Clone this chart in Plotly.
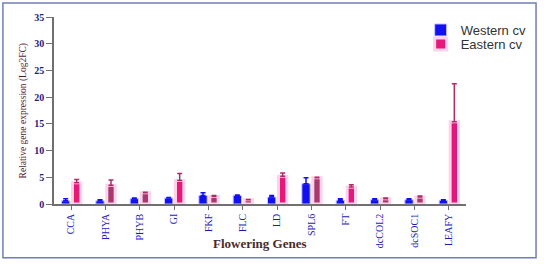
import plotly.graph_objects as go

genes = ["CCA", "PHYA", "PHYB", "GI", "FKF", "FLC", "LD", "SPL6", "FT", "dcCOL2", "dcSOC1", "LEAFY"]
western = [0.6, 0.6, 1.0, 1.1, 1.6, 1.6, 1.3, 3.8, 0.7, 0.8, 0.8, 0.7]
western_err = [0.4, 0.2, 0.1, 0.1, 0.5, 0.1, 0.3, 1.1, 0.3, 0.2, 0.2, 0.1]
eastern = [4.0, 3.5, 2.1, 4.4, 1.4, 0.8, 5.2, 4.9, 3.2, 1.0, 1.3, 15.4]
eastern_err = [0.6, 1.0, 0.1, 1.3, 0.2, 0.05, 0.6, 0.1, 0.4, 0.1, 0.2, 7.1]
eastern_colors = ["#e8177a", "#a8386e", "#a8386e", "#e8177a", "#a8386e", "#a8386e",
                  "#e8177a", "#a8386e", "#e8177a", "#a8386e", "#a8386e", "#e0187a"]
y_ticks = [0, 5, 10, 15, 20, 25, 30, 35]

serif = "Liberation Serif"

fig = go.Figure()
fig.add_trace(go.Bar(
    x=genes, y=western, name="Western cv", legend="legend",
    marker=dict(color="#1010f0", line=dict(color="#c8c8ff", width=1)),
    error_y=dict(type="data", array=western_err, arrayminus=[0] * len(genes),
                 symmetric=False, color="#1010f0", thickness=1.5, width=2.5),
))
fig.add_trace(go.Bar(
    x=genes, y=eastern, name="Eastern cv", legend="legend2",
    marker=dict(color=eastern_colors, line=dict(color="#fbd3ea", width=3)),
    error_y=dict(type="data", array=eastern_err, arrayminus=[0] * len(genes),
                 symmetric=False, color="#b02a68", thickness=1.5, width=2.5),
))

legend_common = dict(xanchor="left", yanchor="middle",
                     font=dict(family="Liberation Sans", size=13, color="#333333"),
                     bgcolor="rgba(0,0,0,0)", itemwidth=30)

fig.update_layout(
    width=550, height=264,
    margin=dict(l=54, r=84, t=17, b=60),
    paper_bgcolor="white", plot_bgcolor="white",
    barmode="group", bargap=0.36, bargroupgap=0.24,
    showlegend=True,
    legend=dict(x=0.89, y=1.0 - (30 - 17) / 187, **legend_common),
    legend2=dict(x=0.89, y=1.0 - (44 - 17) / 187, **legend_common),
    xaxis=dict(
        showline=True, linecolor="#707070", linewidth=1.5,
        ticks="outside", ticklen=4, tickcolor="#707070",
        tickangle=-90, tickfont=dict(family=serif, size=10, color="#1a1ab8"),
        showgrid=False, zeroline=False,
    ),
    yaxis=dict(
        range=[0, 35], tickvals=y_ticks,
        showline=True, linecolor="#707070", linewidth=1.5,
        ticks="outside", ticklen=6, tickcolor="#707070",
        tickfont=dict(family=serif, size=10, color="#1c1c7a", weight="bold"),
        showgrid=False, zeroline=False,
    ),
    annotations=[
        dict(text="Relative gene expression (Log2FC)", xref="paper", yref="paper",
             x=-0.073, y=0.5, textangle=-90, showarrow=False,
             xanchor="center", yanchor="middle",
             font=dict(family=serif, size=9.5, color="#5a1a35")),
        dict(text="<b>Flowering Genes</b>", xref="paper", yref="paper",
             x=0.5, y=-0.21, showarrow=False, xanchor="center", yanchor="middle",
             font=dict(family=serif, size=13, color="#4a2a2a")),
    ],
    shapes=[
        dict(type="rect", xref="paper", yref="paper",
             x0=-0.124, x1=1.17, y0=-0.288, y1=1.075,
             line=dict(color="#6f7fb5", width=1.5)),
    ],
)

fig.write_html("out.html")
